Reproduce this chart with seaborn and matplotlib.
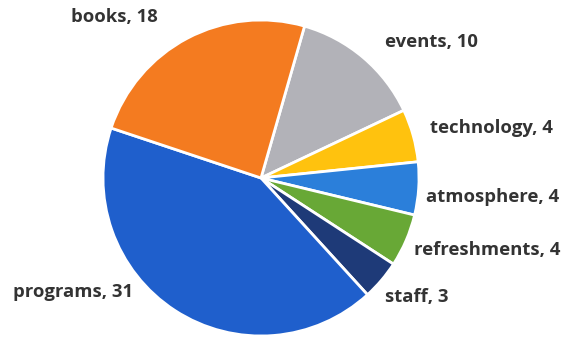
import matplotlib
matplotlib.use("Agg")
import matplotlib.pyplot as plt
import seaborn as sns

# Survey responses by topic, in clockwise order starting from "events"
categories = ["events", "technology", "atmosphere", "refreshments", "staff", "programs", "books"]
counts = [10, 4, 4, 4, 3, 31, 18]
colors = ["#B2B2B8", "#FFC20E", "#2B7FDA", "#68A836", "#1E3A78", "#1F5FCC", "#F47B20"]

# Label anchor points in pixels (x from left, y from top) and alignment
label_px = {
    "events": (385, 42, "left"),
    "technology": (430, 128, "left"),
    "atmosphere": (426, 197, "left"),
    "refreshments": (414, 250, "left"),
    "staff": (385, 297, "left"),
    "programs": (133, 292, "right"),
    "books": (158, 17, "right"),
}

sns.set_theme(style="white")
plt.rcParams["font.family"] = ["Open Sans", "DejaVu Sans"]

W, H = 567, 339
fig = plt.figure(figsize=(W / 100, H / 100), dpi=100)
ax = fig.add_axes([0, 0, 1, 1])

cx, cy, r = 261, 178, 158  # pie centre and radius in pixels

ax.pie(
    counts,
    colors=colors,
    startangle=90 - 16,
    counterclock=False,
    radius=1.0,
    wedgeprops=dict(edgecolor="white", linewidth=2.0),
)
ax.set_xlim(-cx / r, (W - cx) / r)
ax.set_ylim(-(H - cy) / r, cy / r)
ax.set_aspect("auto")
ax.axis("off")

for name, val in zip(categories, counts):
    px, py, ha = label_px[name]
    ax.text((px - cx) / r, (cy - py) / r, f"{name}, {val}", ha=ha, va="center",
            fontsize=13.3, fontweight="bold", color="#333333")

fig.savefig("out.png", dpi=100, facecolor="white")
